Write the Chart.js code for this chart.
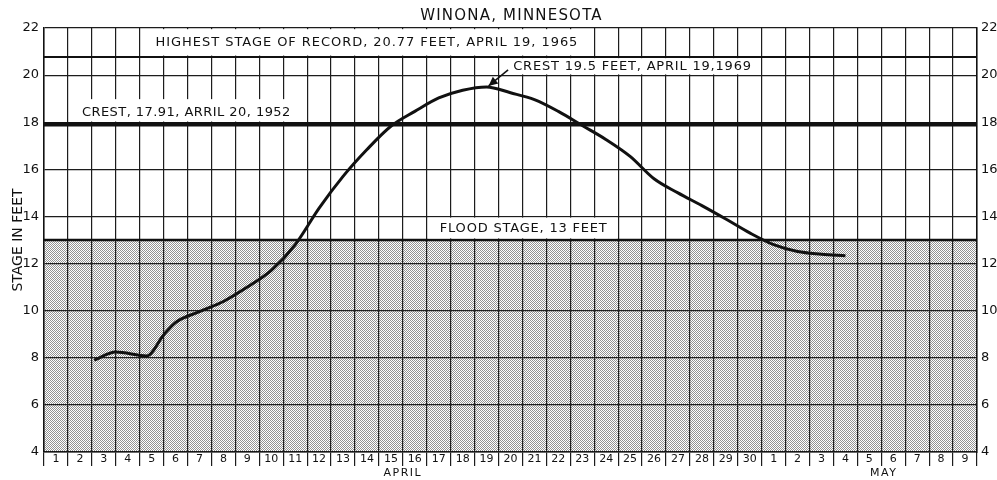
<!DOCTYPE html>
<html>
<head>
<meta charset="utf-8">
<script src="https://cdn.jsdelivr.net/npm/chart.js@4.4.1/dist/chart.umd.min.js"></script>
<style>
  html, body { margin: 0; padding: 0; background: #fff; }
  #wrap { width: 997px; height: 480px; }
</style>
</head>
<body>
<div id="wrap"><canvas id="stage" width="997" height="480"></canvas></div>
<script>
// Day index: 1 = April 1 ... 30 = April 30, 31 = May 1 ... 39 = May 9
const stageDays = [2.6, 3.5, 4.8, 5.5, 6, 7, 8, 9, 10, 11, 12, 13, 14, 15, 16, 17, 18, 19,
                   20, 21, 22, 23, 24, 25, 26, 27, 28, 29, 30, 31, 32, 33, 34];
// Stage in feet, 1969 flood
const stageFeet = [7.9, 8.24, 8.08, 8.97, 9.5, 9.96, 10.39, 11.0, 11.71, 12.8, 14.35, 15.7, 16.84,
                   17.83, 18.46, 19.03, 19.36, 19.5, 19.25, 18.96, 18.46, 17.86, 17.26, 16.55,
                   15.6, 15.0, 14.46, 13.89, 13.3, 12.8, 12.51, 12.4, 12.33];
const dayNumbers = [1, 2, 3, 4, 5, 6, 7, 8, 9, 10, 11, 12, 13, 14, 15, 16, 17, 18, 19, 20,
                    21, 22, 23, 24, 25, 26, 27, 28, 29, 30, 31, 32, 33, 34, 35, 36, 37, 38, 39];
const dayLabels = ['1', '2', '3', '4', '5', '6', '7', '8', '9', '10', '11', '12', '13', '14', '15',
                   '16', '17', '18', '19', '20', '21', '22', '23', '24', '25', '26', '27', '28',
                   '29', '30', '1', '2', '3', '4', '5', '6', '7', '8', '9'];
const stageTicks = [4, 6, 8, 10, 12, 14, 16, 18, 20, 22];
const monthLabels = ['APRIL', 'MAY'];

// Reference stages
const floodStage = 13;
const recordStage = 20.77;
const crest1952 = 17.91;
const crest1969 = 19.5;
const crest1969Day = 19;

const chartTitle = 'WINONA, MINNESOTA';
const noteTexts = [
  'HIGHEST STAGE OF RECORD, 20.77 FEET, APRIL 19, 1965',
  'CREST, 17.91, ARRIL 20, 1952',
  'CREST 19.5 FEET, APRIL 19,1969',
  'FLOOD STAGE, 13 FEET'
];

const FONT = '"DejaVu Sans", "Liberation Sans", sans-serif';
const INK = '#111111';
const GRID = '#1c1c1c';

const canvas = document.getElementById('stage');
const ctx = canvas.getContext('2d');

// Halftone stipple for the band below flood stage
const tile = document.createElement('canvas');
tile.width = 2; tile.height = 2;
const tctx = tile.getContext('2d');
tctx.fillStyle = 'rgba(40,40,40,0.5)';
tctx.fillRect(0, 0, 1, 1);
tctx.fillRect(1, 1, 1, 1);
const stipple = ctx.createPattern(tile, 'repeat');

const xMin = dayNumbers[0] - 0.5;
const xMax = dayNumbers[dayNumbers.length - 1] + 0.5;
const flat = v => [{ x: xMin, y: v }, { x: xMax, y: v }];

// Boxed captions, placed in day / feet units
const notes = [
  { text: noteTexts[0], box: [4.56, 23.44, 20.83, 21.95], at: [14, 21.385], ls: 0.95 },
  { text: noteTexts[1], box: [1.56, 11.44, 18.03, 18.98], at: [6.45, 18.42], ls: 0.45 },
  { text: noteTexts[2], box: [19.56, 30.44, 20.03, 20.72], at: [25.1, 20.4], ls: 0.8 },
  { text: noteTexts[3], box: [16.56, 24.44, 13.07, 13.95], at: [20.55, 13.52], ls: 0.8 }
];

const annotate = {
  id: 'annotate',
  afterDraw(chart) {
    const c = chart.ctx;
    const xs = chart.scales.x, ys = chart.scales.y;
    const ca = chart.chartArea;
    c.save();
    // title
    c.fillStyle = INK;
    c.font = '15px ' + FONT;
    c.letterSpacing = '1.2px';
    c.textAlign = 'center';
    c.textBaseline = 'middle';
    c.fillText(chartTitle, (ca.left + ca.right) / 2 + 1, 16);

    // captions on white boxes
    c.font = '13px ' + FONT;
    notes.forEach(n => {
      const x0 = xs.getPixelForValue(n.box[0]), x1 = xs.getPixelForValue(n.box[1]);
      const y0 = ys.getPixelForValue(n.box[2]), y1 = ys.getPixelForValue(n.box[3]);
      c.fillStyle = '#ffffff';
      c.fillRect(x0, y1, x1 - x0, y0 - y1);
      c.fillStyle = INK;
      c.letterSpacing = n.ls + 'px';
      c.fillText(n.text, xs.getPixelForValue(n.at[0]), ys.getPixelForValue(n.at[1]) + 0.5);
    });

    // arrow to the 1969 crest
    const tipX = xs.getPixelForValue(crest1969Day) + 2, tipY = ys.getPixelForValue(crest1969) - 1;
    const tailX = xs.getPixelForValue(19.9), tailY = ys.getPixelForValue(20.22);
    const ang = Math.atan2(tipY - tailY, tipX - tailX);
    c.strokeStyle = INK;
    c.lineWidth = 1.5;
    c.beginPath();
    c.moveTo(tailX, tailY);
    c.lineTo(tipX, tipY);
    c.stroke();
    c.beginPath();
    c.moveTo(tipX, tipY);
    c.lineTo(tipX - 10 * Math.cos(ang - 0.45), tipY - 10 * Math.sin(ang - 0.45));
    c.lineTo(tipX - 10 * Math.cos(ang + 0.45), tipY - 10 * Math.sin(ang + 0.45));
    c.closePath();
    c.fill();

    // month names under the day row
    c.font = '11px ' + FONT;
    c.letterSpacing = '1.5px';
    c.fillText(monthLabels[0], xs.getPixelForValue(15.5), ca.bottom + 21);
    c.fillText(monthLabels[1], xs.getPixelForValue(35.6), ca.bottom + 21);
    c.restore();
  }
};

const setTicks = list => scale => { scale.ticks = list.map(v => ({ value: v })); };

new Chart(ctx, {
  type: 'line',
  data: {
    datasets: [
      {
        label: 'Stage 1969',
        data: stageDays.map((d, i) => ({ x: d, y: stageFeet[i] })),
        borderColor: INK,
        borderWidth: 3,
        pointRadius: 0,
        cubicInterpolationMode: 'monotone',
        fill: false
      },
      {
        label: 'Record',
        data: flat(recordStage),
        borderColor: INK,
        borderWidth: 2,
        pointRadius: 0,
        fill: false
      },
      {
        label: 'Crest 1952',
        data: flat(crest1952),
        borderColor: INK,
        borderWidth: 4.5,
        pointRadius: 0,
        fill: false
      },
      {
        label: 'Flood stage',
        data: flat(floodStage),
        borderColor: INK,
        borderWidth: 2.5,
        pointRadius: 0,
        backgroundColor: stipple,
        fill: 'start'
      }
    ]
  },
  options: {
    responsive: false,
    animation: false,
    devicePixelRatio: 1,
    layout: { padding: { top: 28, right: 0, bottom: 0, left: 0 } },
    plugins: {
      legend: { display: false },
      tooltip: { enabled: false },
      title: { display: false }
    },
    scales: {
      x: {
        type: 'linear',
        position: 'bottom',
        min: xMin,
        max: xMax,
        afterBuildTicks: setTicks(dayNumbers),
        afterFit: s => { s.height = 28; },
        grid: {
          offset: true,
          color: GRID,
          lineWidth: 1.2,
          drawTicks: true,
          tickLength: 14,
          tickColor: GRID,
          tickWidth: 1.2
        },
        border: { color: INK, width: 1.5 },
        ticks: {
          autoSkip: false,
          maxRotation: 0,
          padding: -13,
          color: INK,
          font: { family: FONT, size: 11 },
          callback: (v, i) => dayLabels[i]
        }
      },
      y: {
        position: 'left',
        min: 4,
        max: 22,
        afterBuildTicks: setTicks(stageTicks),
        afterFit: s => { s.width = 44; },
        grid: { color: GRID, lineWidth: 1.2, drawTicks: false },
        border: { color: INK, width: 1.5 },
        ticks: { padding: 5, color: INK, font: { family: FONT, size: 13 } },
        title: {
          display: true,
          text: 'STAGE IN FEET',
          color: INK,
          font: { family: FONT, size: 14 },
          padding: { top: 10, bottom: 0 }
        }
      },
      y2: {
        position: 'right',
        min: 4,
        max: 22,
        afterBuildTicks: setTicks(stageTicks),
        afterFit: s => { s.width = 20; },
        grid: { display: false, drawTicks: false },
        border: { display: true, color: INK, width: 1.5 },
        ticks: { padding: 4, color: INK, font: { family: FONT, size: 13 } }
      }
    }
  },
  plugins: [annotate]
});
</script>
</body>
</html>
